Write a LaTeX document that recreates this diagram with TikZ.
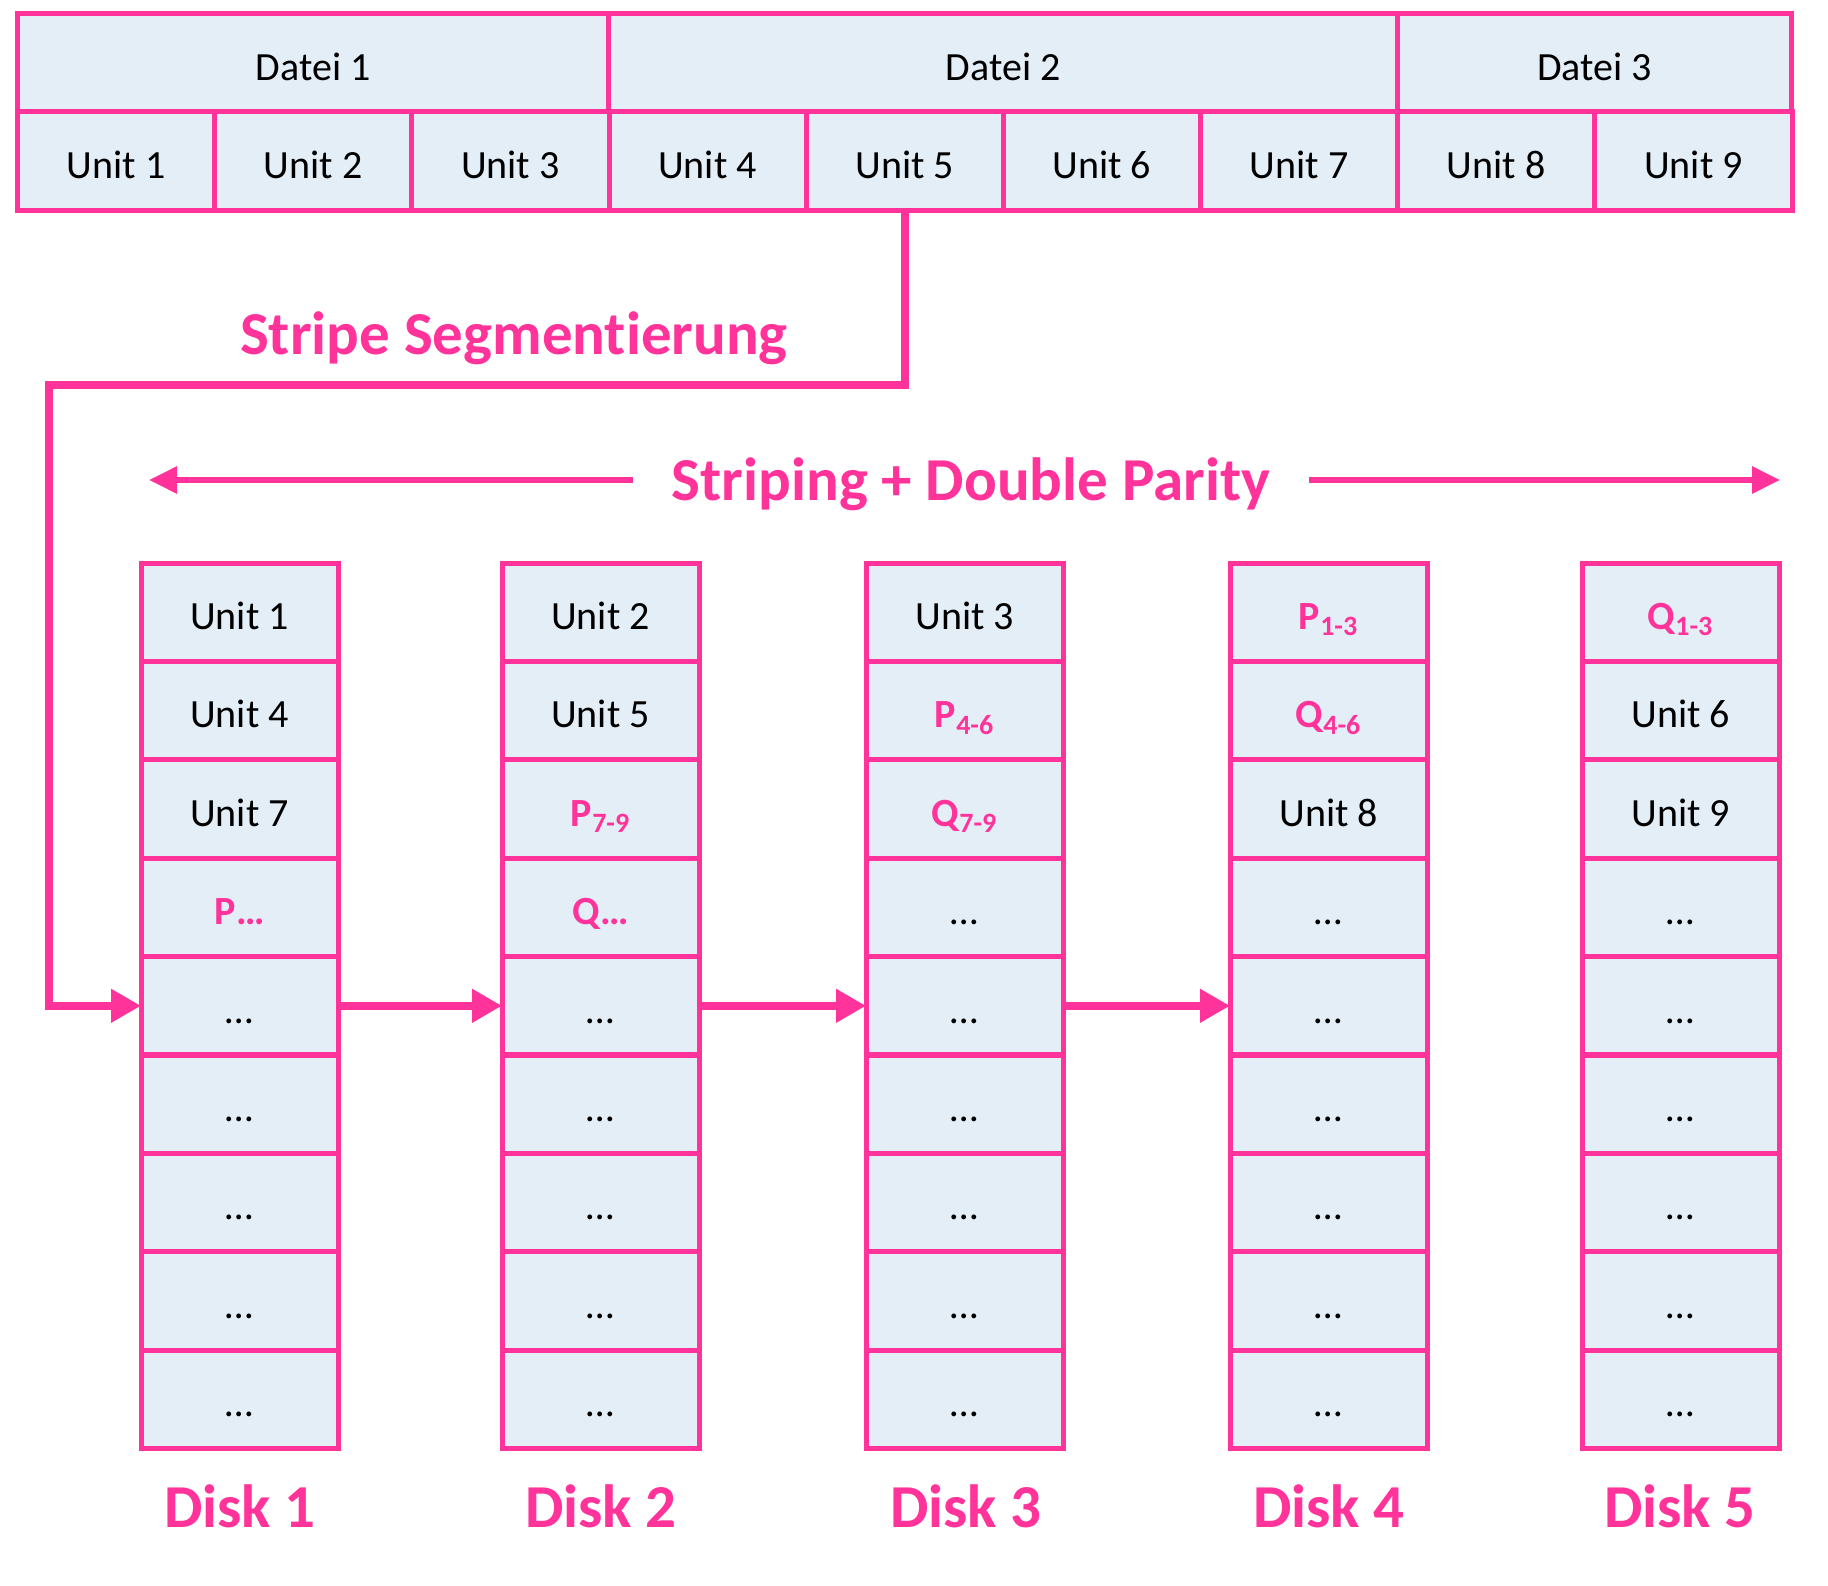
\documentclass[tikz,border=0pt]{standalone}
\usepackage{fontspec}
\setmainfont{Carlito}[Ligatures=NoCommon]
\usetikzlibrary{arrows.meta}
\definecolor{pinkc}{HTML}{FF3399}
\definecolor{cellc}{HTML}{E3EEF7}
\newcommand\pk[1]{\textcolor{pinkc}{\bfseries #1}}
\newcommand\diskcol[3]{%
  \foreach \cellt [count=\rowi] in {#3} {%
    \node[ucell] (d#1-\rowi) at ({#2+98.6},{563+(\rowi-0.5)*98.4}) {\cellt};}}
\begin{document}
\begin{tikzpicture}[x=0.5pt,y=-0.5pt]
\tikzset{
  cell/.style={draw=pinkc, fill=cellc, line width=2.5pt, minimum height=49.1pt,
    inner sep=0pt, outer sep=0pt, font=\fontsize{20}{24}\selectfont,
    text height=17.3pt, text depth=0pt},
  ucell/.style={cell, minimum width=98.58pt},
  conn/.style={draw=pinkc, line width=4pt, -{Triangle[length=15pt,width=16pt]}},
  sarrow/.style={draw=pinkc, line width=3pt, -{Triangle[length=14pt,width=13pt]}},
  plabel/.style={text=pinkc, font=\bfseries\fontsize{30.5}{36}\selectfont,
    inner sep=0pt, text height=20.5pt, text depth=0pt},
}
\path[use as bounding box] (0,0) rectangle (1828,1586);

% top table
\node[cell, minimum width=295.75pt] (f1) at (313.25,63) {Datei 1};
\node[cell, minimum width=394.34pt] (f2) at (1003.2,63) {Datei 2};
\node[cell, minimum width=197.17pt] (f3) at (1594.6,63) {Datei 3};
\foreach \k in {1,...,9}
  \node[ucell] (u\k) at ({17.5+(\k-0.5)*197.17},161) {Unit \k};

% disks
\diskcol{1}{141}{Unit 1,Unit 4,Unit 7,\pk{P…},…,…,…,…,…}
\diskcol{2}{502}{Unit 2,Unit 5,\pk{P\textsubscript{7-9}},\pk{Q…},…,…,…,…,…}
\diskcol{3}{866}{Unit 3,\pk{P\textsubscript{4-6}},\pk{Q\textsubscript{7-9}},…,…,…,…,…,…}
\diskcol{4}{1230}{\pk{P\textsubscript{1-3}},\pk{Q\textsubscript{4-6}},Unit 8,…,…,…,…,…,…}
\diskcol{5}{1582}{\pk{Q\textsubscript{1-3}},Unit 6,Unit 9,…,…,…,…,…,…}

% labels
\node[plabel] (seg) at (514,334) {Stripe Segmentierung};
\node[plabel, inner xsep=19pt] (sp) at (971,480) {Striping + Double Parity};
\foreach \i/\x in {1/240,2/601,3/966,4/1329,5/1680}
  \node[plabel] (disk\i) at (\x,1507) {Disk \i};

% striping arrows
\coordinate (sl) at (149,480);
\coordinate (sr) at (1780,480);
\draw[sarrow] (sp.west) -- (sl);
\draw[sarrow] (sp.east) -- (sr);

% connectors
\coordinate (c1) at (49,385);
\draw[conn] (u5.south) |- (c1) |- (d1-5.west);
\draw[conn] (d1-5.east) -- (d2-5.west);
\draw[conn] (d2-5.east) -- (d3-5.west);
\draw[conn] (d3-5.east) -- (d4-5.west);
\end{tikzpicture}
\end{document}
